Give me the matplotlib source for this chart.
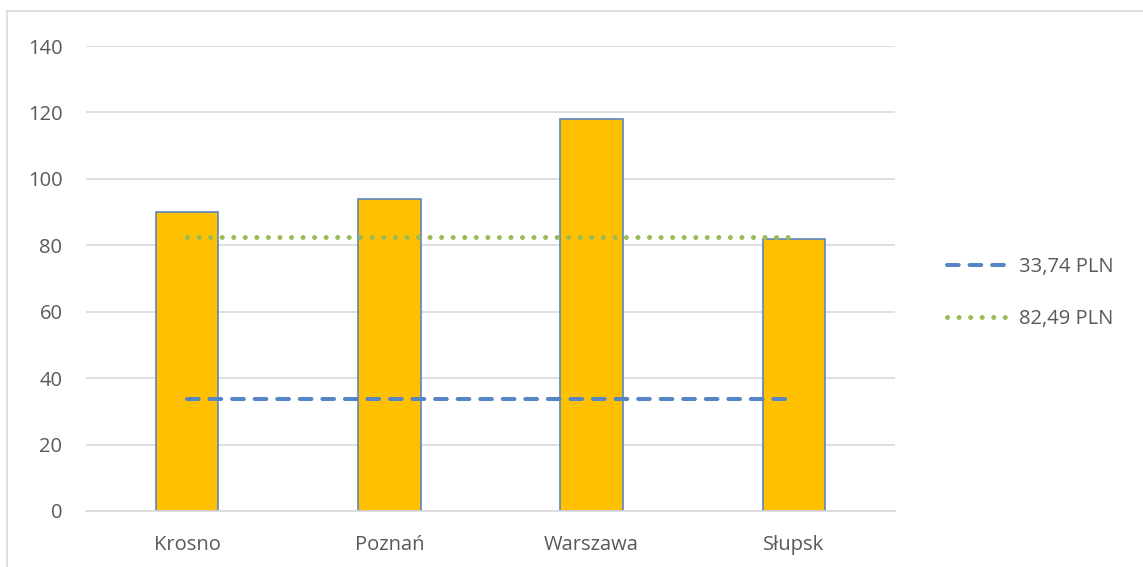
import matplotlib
matplotlib.use("Agg")
import matplotlib.pyplot as plt
from matplotlib.lines import Line2D

categories = ["Krosno", "Poznań", "Warszawa", "Słupsk"]
values = [90, 94, 118, 82]
line1_label = "33,74 PLN"
line1_value = 33.74
line2_label = "82,49 PLN"
line2_value = 82.49
yticks = [0, 20, 40, 60, 80, 100, 120, 140]

plt.rcParams['font.family'] = ['Open Sans', 'DejaVu Sans']
text_color = "#595959"
fs = 14.5

fig = plt.figure(figsize=(11.43, 5.67), dpi=100)
ax = fig.add_axes([86/1143, 1-511/567, (895-86)/1143, (511-46)/567])

x = list(range(len(categories)))
ax.bar(x, values, width=0.31, color="#FFC000", edgecolor="#5A87C5", linewidth=1.2, zorder=2)

l1, = ax.plot(x, [line1_value]*len(x), color="#5585C4", linewidth=2.9,
              linestyle=(0, (2.9, 2.7)), dash_capstyle="round", zorder=3, label=line1_label)
l2, = ax.plot(x, [line2_value]*len(x), color="#9BBB59", linewidth=3.6,
              linestyle=(0, (0.01, 2.3)), dash_capstyle="round", zorder=3, label=line2_label)

ax.set_xlim(-0.5, len(x)-0.5)
ax.set_ylim(0, 140)
ax.set_yticks(yticks)
ax.set_xticks(x)
ax.set_xticklabels(categories)
ax.yaxis.grid(True, color="#D9D9D9", linewidth=1.2, zorder=0)
ax.set_axisbelow(True)
for s in ["top", "right", "left"]:
    ax.spines[s].set_visible(False)
ax.spines["bottom"].set_color("#D9D9D9")
ax.spines["bottom"].set_linewidth(1.2)
ax.tick_params(axis="both", length=0, labelsize=fs, colors=text_color)
ax.tick_params(axis="y", pad=17)
ax.tick_params(axis="x", pad=17)

leg = fig.legend(handles=[l1, l2], loc="center left",
                 bbox_to_anchor=(929/1143, 1-293/567), frameon=False,
                 fontsize=fs, handlelength=3.1, labelspacing=1.55, handletextpad=0.45)
for t in leg.get_texts():
    t.set_color(text_color)

# chart area border (left and top)
fig.add_artist(Line2D([7/1143, 7/1143], [0, 1-11/567], transform=fig.transFigure,
                      color="#D9D9D9", linewidth=1.2))
fig.add_artist(Line2D([7/1143, 1], [1-11/567, 1-11/567], transform=fig.transFigure,
                      color="#D9D9D9", linewidth=1.2))

fig.savefig("out.png", dpi=100)
